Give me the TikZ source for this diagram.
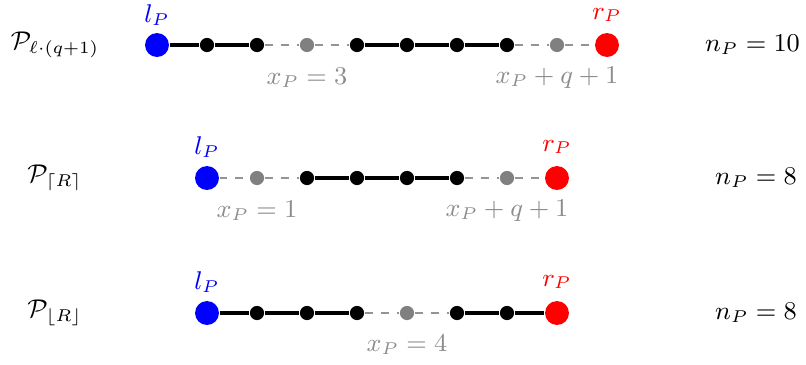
\documentclass[tikz,border=0pt]{standalone}
\usepackage{amsmath}
\begin{document}
\begin{tikzpicture}[x=0.617cm,y=0.617cm,font=\small,
  endl/.style={circle,fill=blue,inner sep=0pt,minimum size=2.95mm},
  endr/.style={circle,fill=red,inner sep=0pt,minimum size=2.95mm},
  vtx/.style={circle,fill=black,inner sep=0pt,minimum size=1.75mm},
  gvtx/.style={circle,fill=black!50,inner sep=0pt,minimum size=1.75mm},
  solidedge/.style={line width=1.1pt,black},
  gapedge/.style={line width=1pt,black!42,dash pattern=on 2.8pt off 2.8pt},
  glab/.style={text=black!45}]
\useasboundingbox (0,0) rectangle (16.12,-7.28);
% row 1
\node at (1.1,-0.9) {$\mathcal{P}_{\ell\cdot(q+1)}$};
\node[endl] (A0) at (3.14,-0.9) {};
\node[vtx] (A1) at (4.14,-0.9) {};
\node[vtx] (A2) at (5.14,-0.9) {};
\node[gvtx] (A3) at (6.14,-0.9) {};
\node[vtx] (A4) at (7.14,-0.9) {};
\node[vtx] (A5) at (8.14,-0.9) {};
\node[vtx] (A6) at (9.14,-0.9) {};
\node[vtx] (A7) at (10.14,-0.9) {};
\node[gvtx] (A8) at (11.14,-0.9) {};
\node[endr] (A9) at (12.14,-0.9) {};
\draw[solidedge] (A0)--(A1)--(A2);
\draw[gapedge] (A2)--(A3)--(A4);
\draw[solidedge] (A4)--(A5)--(A6)--(A7);
\draw[gapedge] (A7)--(A8)--(A9);
\node[text=blue] (lA) at (3.14,-0.3) {$l_P$};
\node[text=red] (rA) at (12.14,-0.3) {$r_P$};
\node[glab] (xA) at (6.14,-1.56) {$x_P=3$};
\node[glab] (yA) at (11.14,-1.56) {$x_P+q+1$};
\node (nA) at (15.05,-0.9) {$n_P=10$};
% row 2
\node at (1.1,-3.56) {$\mathcal{P}_{\lceil R\rceil}$};
\node[endl] (B0) at (4.14,-3.56) {};
\node[gvtx] (B1) at (5.14,-3.56) {};
\node[vtx] (B2) at (6.14,-3.56) {};
\node[vtx] (B3) at (7.14,-3.56) {};
\node[vtx] (B4) at (8.14,-3.56) {};
\node[vtx] (B5) at (9.14,-3.56) {};
\node[gvtx] (B6) at (10.14,-3.56) {};
\node[endr] (B7) at (11.14,-3.56) {};
\draw[gapedge] (B0)--(B1)--(B2);
\draw[solidedge] (B2)--(B3)--(B4)--(B5);
\draw[gapedge] (B5)--(B6)--(B7);
\node[text=blue] (lB) at (4.14,-2.94) {$l_P$};
\node[text=red] (rB) at (11.14,-2.94) {$r_P$};
\node[glab] (xB) at (5.14,-4.22) {$x_P=1$};
\node[glab] (yB) at (10.14,-4.22) {$x_P+q+1$};
\node (nB) at (15.12,-3.56) {$n_P=8$};
% row 3
\node at (1.1,-6.26) {$\mathcal{P}_{\lfloor R\rfloor}$};
\node[endl] (C0) at (4.14,-6.26) {};
\node[vtx] (C1) at (5.14,-6.26) {};
\node[vtx] (C2) at (6.14,-6.26) {};
\node[vtx] (C3) at (7.14,-6.26) {};
\node[gvtx] (C4) at (8.14,-6.26) {};
\node[vtx] (C5) at (9.14,-6.26) {};
\node[vtx] (C6) at (10.14,-6.26) {};
\node[endr] (C7) at (11.14,-6.26) {};
\draw[solidedge] (C0)--(C1)--(C2)--(C3);
\draw[gapedge] (C3)--(C4)--(C5);
\draw[solidedge] (C5)--(C6)--(C7);
\node[text=blue] (lC) at (4.14,-5.64) {$l_P$};
\node[text=red] (rC) at (11.14,-5.64) {$r_P$};
\node[glab] (xC) at (8.14,-6.9) {$x_P=4$};
\node (nC) at (15.12,-6.26) {$n_P=8$};
\end{tikzpicture}
\end{document}
